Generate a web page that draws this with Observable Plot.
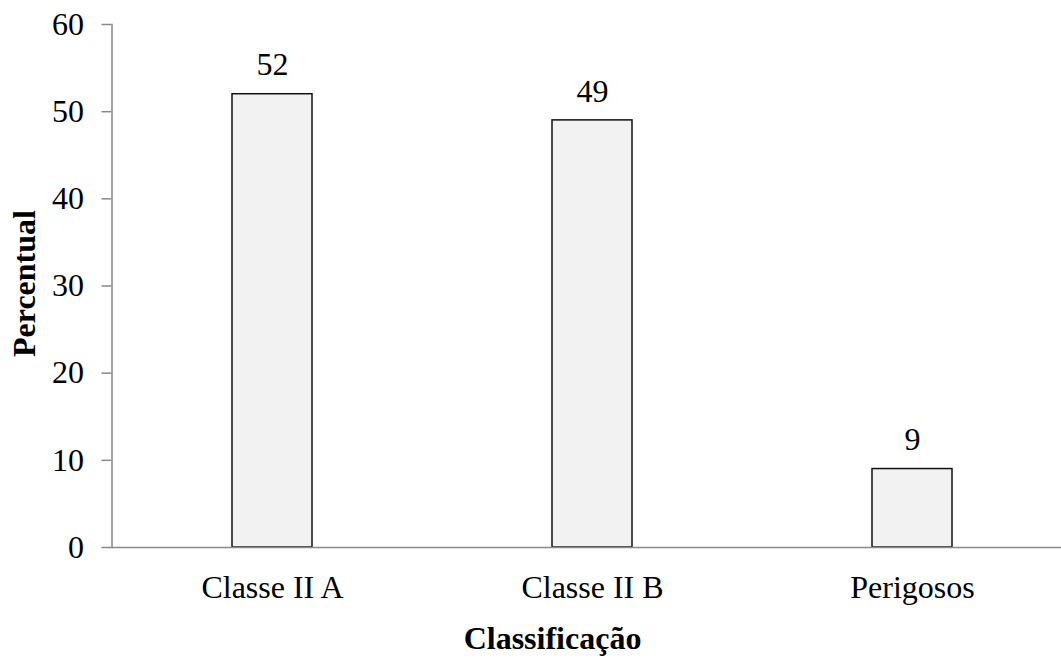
<!DOCTYPE html>
<html>
<head>
<meta charset="utf-8">
<script src="https://cdn.jsdelivr.net/npm/d3@7"></script>
<script src="https://cdn.jsdelivr.net/npm/@observablehq/plot@0.6"></script>
<style>
  html, body { margin: 0; padding: 0; background: #ffffff; overflow: hidden; }
  #chart svg [aria-label="y-axis tick"] { stroke: #898989; stroke-width: 1.5; }
</style>
</head>
<body>
<div id="chart"></div>
<script>
// Waste classification shares (percent)
const categories = ["Classe II A", "Classe II B", "Perigosos"];
const values = [52, 49, 9];
const yTicks = [0, 10, 20, 30, 40, 50, 60];
const xTitle = "Classificação";
const yTitle = "Percentual";

const rows = categories.map((c, i) => ({category: c, value: values[i]}));

const axisGray = "#898989";
const font = "'Liberation Serif', 'Times New Roman', Times, serif";

const chart = Plot.plot({
  width: 1061,
  height: 665,
  marginTop: 24,
  marginBottom: 118,
  marginLeft: 111.5,
  marginRight: -11.5,
  style: {fontFamily: font, fontSize: "32px", color: "black", background: "white"},
  x: {domain: categories, paddingInner: 0.75, paddingOuter: 0.375, label: null},
  y: {domain: [0, 60], label: null},
  marks: [
    Plot.barY(rows, {x: "category", y: "value", fill: "#f2f2f2", stroke: "#111111", strokeWidth: 1.5}),
    Plot.ruleY([0], {stroke: axisGray, strokeWidth: 1.5}),
    Plot.frame({anchor: "left", stroke: axisGray, strokeWidth: 1.5}),
    Plot.axisY({ticks: yTicks, tickSize: 10, tickPadding: 18, fontSize: 32, label: null}),
    Plot.axisX({tickSize: 0, tickPadding: 28, fontSize: 32, label: null}),
    Plot.text(rows, {x: "category", y: "value", text: d => String(d.value), dy: -29, fontSize: 32, fill: "black"}),
    Plot.text([yTitle], {frameAnchor: "left", textAnchor: "middle", rotate: -90, dx: -87, dy: -2.5, fontSize: 32, fontWeight: "bold", fill: "black"}),
    Plot.text([xTitle], {frameAnchor: "bottom", textAnchor: "middle", dx: -40, dy: 101, fontSize: 32, fontWeight: "bold", fill: "black"})
  ]
});

document.getElementById("chart").appendChild(chart);
</script>
</body>
</html>
